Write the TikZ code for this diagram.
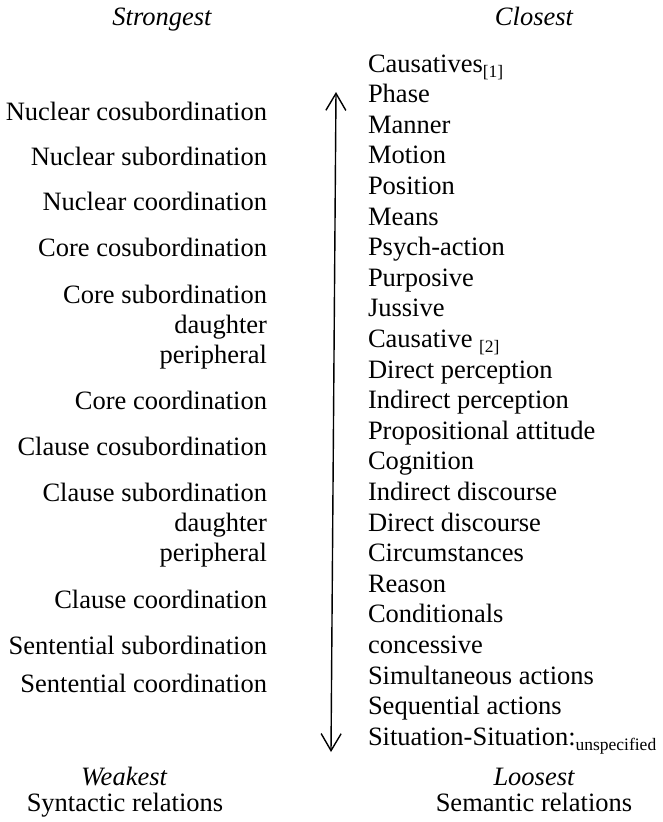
\documentclass[tikz,border=0pt]{standalone}
\usepackage{fontspec}
\setmainfont{Liberation Serif}
\usetikzlibrary{arrows.meta}
\newcommand\subtxt[1]{\raisebox{-5pt}{\fontsize{17.5}{17.5}\selectfont #1}}
\begin{document}
\begin{tikzpicture}[x=1pt,y=-1pt,
  lbl/.style={inner sep=0pt, outer sep=0pt, font=\fontsize{26.5}{30}\selectfont},
  rightitem/.style={lbl, anchor=base west},
  leftitem/.style={lbl, anchor=base east},
  headitem/.style={lbl, anchor=base, font=\fontsize{26.5}{30}\selectfont\itshape},
  footitem/.style={lbl, anchor=base},
  scalearrow/.style={line width=1.4pt, {Straight Barb[length=17pt,width=20pt]}-{Straight Barb[length=17pt,width=20pt]}}]
\useasboundingbox (0,0) rectangle (662,822);
% headings
\node[headitem] (strong) at (162,25) {Strongest};
\node[headitem] (close) at (534,25) {Closest};
% right column
\foreach \t [count=\i from 0] in {Causatives\subtxt{[1]},Phase,Manner,Motion,Position,Means,Psych-action,Purposive,Jussive,Causative \subtxt{[2]},Direct perception,Indirect perception,Propositional attitude,Cognition,Indirect discourse,Direct discourse,Circumstances,Reason,Conditionals,concessive,Simultaneous actions,Sequential actions,Situation-Situation:\subtxt{unspecified}}
  {\node[rightitem] (r\i) at (368,72+30.6*\i) {\t};}
% left column
\node[leftitem] (l1) at (267,120) {Nuclear cosubordination};
\node[leftitem] (l2) at (267,165) {Nuclear subordination};
\node[leftitem] (l3) at (267,210) {Nuclear coordination};
\node[leftitem] (l4) at (267,256) {Core cosubordination};
\node[leftitem] (l5) at (267,303) {Core subordination};
\node[leftitem] (l5a) at (267,333) {daughter};
\node[leftitem] (l5b) at (267,363) {peripheral};
\node[leftitem] (l6) at (267,409) {Core coordination};
\node[leftitem] (l7) at (267,455) {Clause cosubordination};
\node[leftitem] (l8) at (267,501) {Clause subordination};
\node[leftitem] (l8a) at (267,531) {daughter};
\node[leftitem] (l8b) at (267,561) {peripheral};
\node[leftitem] (l9) at (267,608) {Clause coordination};
\node[leftitem] (l10) at (267,654) {Sentential subordination};
\node[leftitem] (l11) at (267,692) {Sentential coordination};
% arrow
\coordinate (atop) at (336,92);
\coordinate (abot) at (331,752);
\draw[scalearrow] (atop) -- (abot);
% footers
\node[headitem] (weak) at (124,785) {Weakest};
\node[footitem] (syn) at (125,811) {Syntactic relations};
\node[headitem] (loose) at (534,785) {Loosest};
\node[footitem] (sem) at (534,811) {Semantic relations};
\end{tikzpicture}
\end{document}
